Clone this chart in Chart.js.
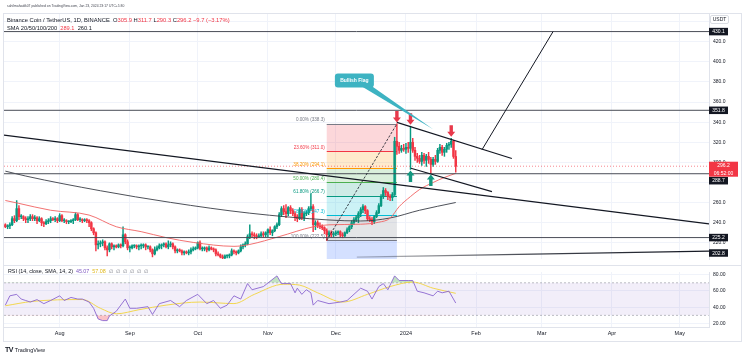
<!DOCTYPE html>
<html><head><meta charset="utf-8">
<title>BNB/USDT</title>
<script src="https://cdn.jsdelivr.net/npm/chart.js@4.4.1/dist/chart.umd.min.js"></script>
<style>
html,body{margin:0;padding:0;background:#fff;}
body{width:745px;height:358px;position:relative;overflow:hidden;font-family:"Liberation Sans",Arial,sans-serif;color:#131722;}
#frame{position:absolute;left:3px;top:13px;width:739px;height:329px;border:1px solid #e0e3eb;box-sizing:border-box;}
canvas{position:absolute;left:0;}
#main{top:0;}
#rsi{top:265px;}
#tv{position:absolute;left:5px;top:346px;white-space:nowrap;font-size:5.5px;color:#131722;display:flex;align-items:center;gap:2px;}
#tv b{font-size:7px;letter-spacing:-0.6px;font-weight:900;}
</style></head>
<body>
<div id="frame"></div>
<canvas id="main" width="745" height="266"></canvas>
<canvas id="rsi" width="745" height="76"></canvas>
<div id="tv"><b>TV</b><span>TradingView</span></div>
<script>
// ---------------- DATA ----------------
const startDate = '2023-07-08';            // first candle
const monthDays   = [-153,-122,-92,-61,-31,0,31,60,91,121];   // days from 2024-01-01
const monthLabels = ['Aug','Sep','Oct','Nov','Dec','2024','Feb','Mar','Apr','May'];
const priceTicks  = [220,240,260,280,300,320,340,360,380,400,420,440];
const rsiTicks    = [20,40,60,80];

const opens = [
 238,236,237,238,244,242,254,246,246,244,243,244,246,244,245,242,244,240,239,241,242,244,243,244,
 242,247,242,242,241,241,242,243,248,243,243,242,243,242,240,234,230,218,219,220,221,215,213,219,216,217,216,218,217,228,221,
 215,215,217,217,216,217,217,218,216,216,213,209,213,215,217,218,219,216,218,219,216,212,213,212,210,211,210,211,213,214,
 215,220,214,214,215,213,215,214,213,209,208,206,205,207,207,208,212,211,210,212,216,218,219,226,229,228,227,226,227,229,228,
 230,233,230,232,236,238,248,254,251,249,255,252,249,246,244,253,245,249,250,254,256,238,240,237,236,235,232,228,230,228,
 229,230,231,228,227,230,233,236,240,243,245,249,253,256,252,244,243,241,246,250,257,266,272,270,266,265,268,321,316,312,314,
 313,315,314,320,312,306,304,301,307,302,306,303,298,303,301,312,315,310,313,317,318,321,305.9];
const highs = [
 239,238,240,246,247,262,257,248,247,246,246,248,248,247,246,246,245,241,243,244,246,245,246,245,
 249,248,244,243,242,243,244,250,249,245,244,244,244,243,241,235,231,222,222,223,222,217,220,220,218,218,219,219,236,229,223,
 217,218,218,218,218,219,219,219,217,217,214,216,217,219,219,220,220,222,221,220,217,214,214,213,212,212,213,215,216,216,
 221,222,216,216,216,217,216,215,214,211,209,208,208,208,209,214,213,212,213,218,219,221,228,238,231,230,229,229,231,231,231,
 234,236,233,237,240,250,256,257,258,256,257,254,251,248,255,255,251,252,256,269,258,242,242,240,238,236,234,232,232,231,
 232,232,232,230,231,235,237,242,245,247,251,255,258,257,253,246,245,247,252,259,268,275,274,271,268,270,325,338.3,320,317,318,
 319,320,336,324,315,309,307,310,309,308,310,305,305,307,314,318,317,315,319,320,324,322,311.7];
const lows = [
 235,234,234,237,240,241,243,244,242,240,240,242,242,242,239,241,237,236,238,239,240,242,241,240,
 241,241,240,239,239,240,239,242,242,241,240,241,240,236,232,228,212,214,216,217,213,207,211,214,213,215,215,215,216,219,213,
 211,214,215,214,213,214,215,213,214,211,206,208,212,214,214,216,215,214,216,214,210,210,211,208,208,209,208,209,212,213,
 214,213,212,212,211,212,213,211,207,207,205,204,204,205,205,207,209,208,209,211,214,216,218,224,225,224,224,225,226,226,226,
 226,228,227,231,234,237,246,248,245,247,249,247,242,241,243,243,242,247,248,252,231,233,235,234,233,229,222.5,226,226,226,
 227,228,226,225,226,229,231,234,238,241,240,246,250,249,242,241,238,239,245,249,256,264,267,263,262,262,267,308,309,310,311,
 309,310,293,310,302,300,299,297,299,296,299,289,296,298,300,309,307,306,310,313,315,304,290.3];
const closes = [
 236,237,238,244,242,254,246,246,244,243,244,246,244,245,242,244,240,239,241,242,244,243,244,242,
 247,242,242,241,241,242,243,248,243,243,242,243,242,240,234,230,218,219,220,221,215,213,219,216,217,216,218,217,228,221,215,
 215,217,217,216,217,217,218,216,216,213,209,213,215,217,218,219,216,218,219,216,212,213,212,210,211,210,211,213,214,215,
 220,214,214,215,213,215,214,213,209,208,206,205,207,207,208,212,211,210,212,216,218,219,226,229,228,227,226,227,229,228,230,
 233,230,232,236,238,248,254,251,249,255,252,249,246,244,253,245,249,250,254,256,238,240,237,236,235,232,228,230,228,229,
 230,231,228,227,230,233,236,240,243,245,249,253,256,252,244,243,241,246,250,257,266,272,270,266,265,268,321,316,312,314,313,
 315,314,320,312,306,304,301,307,302,306,303,298,303,301,312,315,310,313,317,318,321,305.9,296.2];

// moving averages (day, value)
const smaRedDays  = [-177,-171,-157,-140,-128,-117,-106,-94,-76,-69,-56,-41,-34,-20,-12,-7,-3,2,6,12,17,22];
const smaRedVals  = [262.1,259.2,252.4,247.6,236,231.1,225.2,220.4,216.5,218.4,226.2,235.9,237.9,238.5,240.5,244.5,256,266,273,280,285,289.1];
const smaDarkDays = [-177,-168,-135,-104,-69,-34,-20,-7,6,22];
const smaDarkVals = [291.3,286.4,271.8,260.2,249.5,242.7,241.7,244.7,252.4,260.1];

// RSI (14) and its SMA
const rsiDays = [-177,-175,-172,-170,-168,-166,-163,-160,-157,-153,-151,-148,-145,-143,-140,-138,-136,-134,-132,-131,-128,-124,-122,-119,-114,-112,-109,-104,-100,-97,-92,-88,-85,-82,-79,-76,-73,-70,-68,-63,-57,-55,-51,-49,-48,-46,-44,-42,-41,-39,-34,-29,-26,-20,-17,-15,-12,-10,-8,-5,-3,1,3,5,8,12,14,16,19,22];
const rsiVals = [42.5,54,55.8,50,48.2,46.3,49.3,44.3,48.2,54,48.2,52,50,50,46.3,38.6,25.4,23.4,23.4,29.1,34.9,50,38.6,38.6,40.6,31,44.3,48.2,40.6,48.2,55.8,44.3,48.2,38.6,42.5,54,50,69.1,61.5,65.4,78.6,69.1,69.1,57.7,63.4,55.8,61.5,57.7,42.5,48.2,44.3,46.3,48.2,63.4,59.7,50,65.4,69.1,61.5,78.6,72.9,72.9,72.9,59.7,57.7,54,59.7,57.7,59.7,45.07];
const rsiSmaDays = [-177,-165,-143,-135,-128,-118,-106,-91,-76,-67,-54,-47,-39,-28,-17,-7,3,12,22];
const rsiSmaVals = [41.7,47.1,49.4,38.6,31.8,36.8,42.5,46.3,44.4,55.8,68.3,67.2,57.7,46.3,55.8,65.4,71,63.4,57.08];

// drawings (day, price)
const hLevels     = [430.1, 351.8, 288.7, 225.2];
const trendLong   = [[-177.6,327.2],[133.9,238.8]];
const flagUpper   = [[-4,339.8],[46.8,303.9]];
const flagLower   = [[2.2,294.2],[38,270.9]];
const poleProject = [[33.6,312.6],[65,430.1]];
const bottomLine  = [[-21.7,205.8],[133.9,211.7]];
const bottomTag   = 202.8;
const fibDays     = [-35,-4];
const fibPrices   = [338.3,311.0,294.1,280.4,266.7,247.3,222.5,150.9];
const fibLabels   = ['0.00% (338.3)','23.60% (311.0)','38.20% (294.1)','50.00% (280.4)','61.80% (266.7)','78.60% (247.3)','100.00% (222.5)'];
const arrowDownDays = [-4,2,20],  arrowDownPrices = [338.3,336,324];
const arrowUpDays   = [2,11],     arrowUpPrices   = [293,289];
const calloutText = 'Bullish Flag';
const calloutAnchor = [-31.4,388.3], calloutTip = [12,333];

// ---------------- STYLE ----------------
const FAM = '"Liberation Sans", Arial, sans-serif';
const UP = '#089981', DOWN = '#F23645', GRID = '#f0f3fa', INK = '#131722';
const fibFills = ['rgba(242,54,69,0.2)','rgba(255,152,0,0.2)','rgba(76,175,80,0.2)','rgba(8,153,129,0.2)','rgba(0,188,212,0.2)','rgba(120,123,134,0.2)','rgba(41,98,255,0.2)'];
const fibLines = ['#787B86','#F23645','#FF9800','#4CAF50','#089981','#00BCD4','#787B86'];
Chart.defaults.font.family = FAM;

const xMin = -177.6, xMax = 133.9, yMin = 203.9, yMax = 447.6;
const n = closes.length;
const firstDay = Math.round((Date.parse(startDate) - Date.parse('2024-01-01')) / 86400000);
const wickData = highs.map((h,i)=>({x:firstDay+i, y:[lows[i], h]}));
const bodyData = opens.map((o,i)=>({x:firstDay+i, y:[o, closes[i]]}));
const cCol = c => closes[c.dataIndex] >= opens[c.dataIndex] ? UP : DOWN;
const pts = a => a.map(p=>({x:p[0], y:p[1]}));
const zip = (d,v) => d.map((x,i)=>({x, y:v[i]}));
function seg(points, color, width, dash, order, extra){
  return Object.assign({type:'line', data:pts(points), borderColor:color, borderWidth:width, borderDash:dash||[],
    pointRadius:0, fill:false, tension:0, order}, extra||{});
}

function textRun(ctx, segs, x, y, size, weight){
  ctx.font = `${weight||''} ${size}px ${FAM}`;
  for (const [t,c] of segs){ ctx.fillStyle=c; ctx.fillText(t,x,y); x += ctx.measureText(t).width; }
}
function fitSize(ctx, segs, target, weight){
  ctx.font = `${weight||''} 10px ${FAM}`;
  const w = ctx.measureText(segs.map(s=>s[0]).join('')).width;
  return 10*target/w;
}

// ---------------- PLUGINS ----------------
const fibPlugin = {
  id:'fib',
  beforeDatasetsDraw(chart){
    const {ctx, chartArea:a, scales:{x,y}} = chart;
    const x0 = x.getPixelForValue(fibDays[0]), x1 = x.getPixelForValue(fibDays[1]);
    ctx.save(); ctx.beginPath(); ctx.rect(a.left,a.top,a.width,a.height); ctx.clip();
    for (let i=0;i<fibPrices.length-1;i++){
      const t = y.getPixelForValue(fibPrices[i]), b = y.getPixelForValue(fibPrices[i+1]);
      ctx.fillStyle = fibFills[i]; ctx.fillRect(x0, t, x1-x0, b-t);
    }
    for (let i=0;i<fibLabels.length;i++){
      const py = Math.round(y.getPixelForValue(fibPrices[i]))+0.5;
      ctx.strokeStyle = fibLines[i]; ctx.lineWidth = 1;
      ctx.beginPath(); ctx.moveTo(x0,py); ctx.lineTo(x1,py); ctx.stroke();
    }
    ctx.restore();
  },
  afterDatasetsDraw(chart){
    const {ctx, scales:{x,y}} = chart;
    const x0 = x.getPixelForValue(fibDays[0]);
    ctx.save();
    ctx.font = `4.6px ${FAM}`; ctx.textAlign='right'; ctx.textBaseline='bottom';
    fibLabels.forEach((l,i)=>{ ctx.fillStyle = fibLines[i]; ctx.fillText(l, x0-2, y.getPixelForValue(fibPrices[i])-1.5); });
    ctx.restore();
  }
};

function arrow(ctx, cx, tipY, dir, color){
  const w=8, hh=5, sw=3.4, sh=6.5;
  ctx.fillStyle=color; ctx.beginPath();
  ctx.moveTo(cx, tipY);
  ctx.lineTo(cx-w/2, tipY-dir*hh);
  ctx.lineTo(cx-sw/2, tipY-dir*hh);
  ctx.lineTo(cx-sw/2, tipY-dir*(hh+sh));
  ctx.lineTo(cx+sw/2, tipY-dir*(hh+sh));
  ctx.lineTo(cx+sw/2, tipY-dir*hh);
  ctx.lineTo(cx+w/2, tipY-dir*hh);
  ctx.closePath(); ctx.fill();
}

const markPlugin = {
  id:'marks',
  afterDatasetsDraw(chart){
    const {ctx, scales:{x,y}} = chart;
    ctx.save();
    arrowDownDays.forEach((d,i)=>arrow(ctx, x.getPixelForValue(d), y.getPixelForValue(arrowDownPrices[i])-1.5, 1, '#e8394b'));
    arrowUpDays.forEach((d,i)=>arrow(ctx, x.getPixelForValue(d), y.getPixelForValue(arrowUpPrices[i])+1, -1, '#13977f'));
    // callout
    const bx = x.getPixelForValue(calloutAnchor[0]), by = y.getPixelForValue(calloutAnchor[1]);
    const tx = x.getPixelForValue(calloutTip[0]), ty = y.getPixelForValue(calloutTip[1]);
    const bw = 39, bh = 14;
    ctx.fillStyle = '#3db3c2';
    ctx.beginPath(); ctx.moveTo(bx+27, by+bh-1); ctx.lineTo(bx+36, by+bh-2); ctx.lineTo(tx, ty); ctx.closePath(); ctx.fill();
    ctx.beginPath(); ctx.roundRect(bx, by, bw, bh, 3); ctx.fill();
    ctx.fillStyle='#fff'; ctx.font=`bold 5px ${FAM}`; ctx.textAlign='center'; ctx.textBaseline='middle';
    ctx.fillText(calloutText, bx+bw/2, by+bh/2+0.3);
    ctx.restore();
  }
};

function tag(ctx, left, cy, w, h, fill, lines, color){
  ctx.fillStyle = fill; ctx.fillRect(left, cy-h/2, w, h);
  ctx.fillStyle = color; ctx.textAlign='center'; ctx.textBaseline='middle';
  const lh = h/lines.length;
  lines.forEach((t,i)=>ctx.fillText(t, left+w/2, cy-h/2+lh*(i+0.5)+0.3));
}

const boxPlugin = {
  id:'boxes',
  afterDraw(chart){
    const {ctx, chartArea:a, scales:{y}} = chart;
    ctx.save();
    ctx.font = `5px ${FAM}`;
    // USDT unit box
    ctx.fillStyle='#fff'; ctx.strokeStyle='#d1d4dc'; ctx.lineWidth=0.8;
    ctx.beginPath(); ctx.roundRect(a.right+1.5, a.top+1.5, 18, 8, 1.5); ctx.fill(); ctx.stroke();
    ctx.fillStyle=INK; ctx.textAlign='center'; ctx.textBaseline='middle'; ctx.fillText('USDT', a.right+10.5, a.top+5.8);
    // last price
    const last = closes[n-1];
    const ly = y.getPixelForValue(last);
    const redTop = ly-4.5, redH = 15;
    tag(ctx, a.right, redTop+redH/2, 29, redH, '#F23645', [last.toFixed(1), '06:52:00'], '#fff');
    // level tags
    hLevels.forEach(v=>{
      let py = y.getPixelForValue(v);
      if (py > redTop-4 && py < redTop+redH+4) py = redTop+redH+4;
      tag(ctx, a.right, py, 19, 7.5, INK, [v.toFixed(1)], '#fff');
    });
    tag(ctx, a.right, Math.min(y.getPixelForValue(bottomTag), a.bottom-6), 19, 7.5, INK, [bottomTag.toFixed(1)], '#fff');
    // header + legends
    ctx.textAlign='left'; ctx.textBaseline='middle';
    const hdr = [['sahilmahadik07 published on TradingView.com, Jan 23, 2024 23:17 UTC+5:30', '#434651']];
    textRun(ctx, hdr, 7, 6.5, fitSize(ctx, hdr, 118));
    const o=opens[n-1], h=highs[n-1], l=lows[n-1], c=closes[n-1], ch=c-o;
    const l1 = [['Binance Coin / TetherUS, 1D, BINANCE  ',INK],['O',INK],[o.toFixed(1)+' ',DOWN],['H',INK],[h.toFixed(1)+' ',DOWN],
                ['L',INK],[l.toFixed(1)+' ',DOWN],['C',INK],[c.toFixed(1)+' ',DOWN],
                [(ch<0?'−':'+')+Math.abs(ch).toFixed(1)+' ('+(ch<0?'−':'+')+Math.abs(ch/o*100).toFixed(2)+'%)',DOWN]];
    textRun(ctx, l1, 7, 20, fitSize(ctx, l1, 223));
    const l2 = [['SMA 20/50/100/200  ',INK],[smaRedVals[smaRedVals.length-1].toFixed(1)+'  ',DOWN],[smaDarkVals[smaDarkVals.length-1].toFixed(1),INK]];
    textRun(ctx, l2, 7, 28, fitSize(ctx, l2, 85));
    ctx.restore();
  }
};

// ---------------- MAIN CHART ----------------
const bottomGrad = c => {
  const ch = c.chart, a = ch.chartArea;
  if (!a) return INK;
  const g = ch.ctx.createLinearGradient(ch.scales.x.getPixelForValue(bottomLine[0][0]), 0, a.right, 0);
  g.addColorStop(0, 'rgba(19,23,34,0.25)'); g.addColorStop(0.5, 'rgba(19,23,34,0.8)'); g.addColorStop(1, 'rgba(19,23,34,1)');
  return g;
};

new Chart(document.getElementById('main'), {
  type:'bar',
  data:{datasets:[
    seg(trendLong, INK, 1.2, null, 1),
    seg(flagUpper, INK, 1.1, null, 1),
    seg(flagLower, INK, 1.1, null, 1),
    seg(poleProject, INK, 1, null, 1),
    seg([[fibDays[0],fibPrices[6]],[fibDays[1],fibPrices[0]]], INK, 0.8, [2.5,1.5], 1),
    seg(bottomLine, INK, 1.3, null, 1, {borderColor: bottomGrad}),
    ...hLevels.map(v=>seg([[xMin,v],[xMax,v]], '#4a4d57', 1, null, 2)),
    seg([[xMin,closes[n-1]],[xMax,closes[n-1]]], 'rgba(242,54,69,0.75)', 0.8, [1,2], 2),
    {type:'line', data:zip(smaRedDays, smaRedVals), borderColor:'#f06262', borderWidth:0.9, pointRadius:0, fill:false, cubicInterpolationMode:'monotone', order:3},
    {type:'line', data:zip(smaDarkDays, smaDarkVals), borderColor:'#3a3d46', borderWidth:0.9, pointRadius:0, fill:false, cubicInterpolationMode:'monotone', order:3},
    {type:'bar', data:bodyData, backgroundColor:cCol, barThickness:1.8, grouped:false, minBarLength:0.8, borderWidth:0, order:4},
    {type:'bar', data:wickData, backgroundColor:cCol, barThickness:0.8, grouped:false, borderWidth:0, order:5}
  ]},
  options:{
    responsive:false, animation:false, devicePixelRatio:1, events:[],
    layout:{padding:{left:4, top:14, right:0, bottom:1}},
    plugins:{legend:{display:false}, tooltip:{enabled:false}},
    scales:{
      x:{type:'linear', min:xMin, max:xMax, offset:false,
         grid:{color:GRID, drawTicks:false, offset:false}, border:{display:false}, ticks:{display:false},
         afterBuildTicks:s=>{s.ticks = monthDays.map(v=>({value:v}));}, afterFit:s=>{s.height=0;}},
      y:{type:'linear', position:'right', min:yMin, max:yMax, beginAtZero:false,
         grid:{color:GRID, drawTicks:false}, border:{color:'#e0e3eb'},
         ticks:{color:INK, font:{size:5}, padding:4, autoSkip:false, callback:v=>v.toFixed(1)},
         afterBuildTicks:s=>{s.ticks = priceTicks.map(v=>({value:v}));}, afterFit:s=>{s.width=36;}}
    }
  },
  plugins:[fibPlugin, markPlugin, boxPlugin]
});

// ---------------- RSI CHART ----------------
const rsiPlugin = {
  id:'rsiPane',
  beforeDatasetsDraw(chart){
    const {ctx, chartArea:a, scales:{y}} = chart;
    const t = y.getPixelForValue(70), b = y.getPixelForValue(30);
    ctx.save();
    ctx.fillStyle = 'rgba(126,87,194,0.1)'; ctx.fillRect(a.left, t, a.width, b-t);
    ctx.strokeStyle = 'rgba(120,123,134,0.7)'; ctx.lineWidth = 0.7; ctx.setLineDash([2,2]);
    [t,b].forEach(py=>{ ctx.beginPath(); ctx.moveTo(a.left, py); ctx.lineTo(a.right, py); ctx.stroke(); });
    ctx.restore();
  },
  afterDraw(chart){
    const {ctx} = chart;
    ctx.save();
    ctx.strokeStyle = '#e0e3eb'; ctx.lineWidth = 1;
    ctx.beginPath(); ctx.moveTo(3, 0.5); ctx.lineTo(741, 0.5); ctx.stroke();
    ctx.textBaseline = 'middle'; ctx.textAlign='left';
    const segs = [['RSI (14, close, SMA, 14, 2)  ',INK],[rsiVals[rsiVals.length-1].toFixed(2)+'  ','#7e57c2'],
                  [rsiSmaVals[rsiSmaVals.length-1].toFixed(2)+'  ','#e0b81c'],['∅  ∅  ∅  ∅  ∅  ∅','#787b86']];
    textRun(ctx, segs, 8, 7, fitSize(ctx, segs, 145));
    ctx.restore();
  }
};

new Chart(document.getElementById('rsi'), {
  type:'line',
  data:{datasets:[
    {data:zip(rsiDays, rsiVals), borderWidth:0, pointRadius:0, fill:{target:{value:70}, above:'rgba(76,175,80,0.35)', below:'rgba(0,0,0,0)'}, order:5},
    {data:zip(rsiDays, rsiVals), borderWidth:0, pointRadius:0, fill:{target:{value:30}, above:'rgba(0,0,0,0)', below:'rgba(242,54,69,0.3)'}, order:5},
    {data:zip(rsiSmaDays, rsiSmaVals), borderColor:'#f2d43c', borderWidth:0.9, pointRadius:0, fill:false, cubicInterpolationMode:'monotone', order:2},
    {data:zip(rsiDays, rsiVals), borderColor:'#8b67d0', borderWidth:0.9, pointRadius:0, fill:false, tension:0, order:1}
  ]},
  options:{
    responsive:false, animation:false, devicePixelRatio:1, events:[],
    layout:{padding:{left:4, top:2, right:0, bottom:0}},
    plugins:{legend:{display:false}, tooltip:{enabled:false}},
    scales:{
      x:{type:'linear', min:xMin, max:xMax, grid:{color:GRID, drawTicks:false}, border:{color:'#e0e3eb'},
         ticks:{color:INK, font:{size:5.5}, padding:3, maxRotation:0, autoSkip:false, callback:v=>monthLabels[monthDays.indexOf(v)]},
         afterBuildTicks:s=>{s.ticks = monthDays.map(v=>({value:v}));}, afterFit:s=>{s.height=14;}},
      y:{type:'linear', position:'right', min:15.5, max:83.4,
         grid:{color:GRID, drawTicks:false}, border:{color:'#e0e3eb'},
         ticks:{color:INK, font:{size:5}, padding:4, autoSkip:false, callback:v=>v.toFixed(2)},
         afterBuildTicks:s=>{s.ticks = rsiTicks.map(v=>({value:v}));}, afterFit:s=>{s.width=36;}}
    }
  },
  plugins:[rsiPlugin]
});
</script>
</body></html>
